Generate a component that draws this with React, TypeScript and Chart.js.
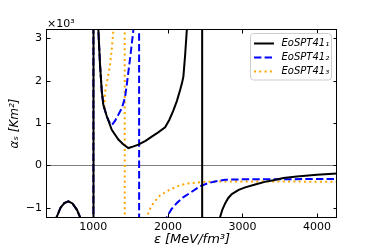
import React, { useEffect, useRef } from 'react';
import { Chart, registerables } from 'chart.js';

Chart.register(...registerables);

// ---- data (x: energy density ε in MeV/fm³, y: α_s in 10³ Km²) ----
const seriesLabels = ['EoSPT41', 'EoSPT41', 'EoSPT41'];
const seriesSubs = ['₁', '₂', '₃'];

const eps1 = [440, 508, 560, 610, 664, 720, 780, 821, 880, 950, 990, 998, 1002, 1030, 1067, 1090, 1113, 1134, 1180, 1247, 1336, 1400, 1470, 1540, 1604, 1700, 1784, 1870, 1963, 2020, 2074, 2120, 2164, 2190, 2208, 2231, 2254, 2300, 2400, 2455, 2465, 2560, 2650, 2701, 2730, 2768, 2810, 2858, 2950, 3037, 3171, 3300, 3417, 3550, 3731, 4000, 4269];
const alpha1 = [-1.6, -1.22, -1.0, -0.89, -0.85, -0.9, -1.05, -1.22, -1.7, -3.5, -12, -60, 60, 5, 3.2, 2.37, 1.75, 1.43, 1.16, 0.84, 0.61, 0.5, 0.41, 0.45, 0.49, 0.58, 0.68, 0.78, 0.9, 1.08, 1.3, 1.52, 1.78, 1.95, 2.1, 2.6, 3.2, 6, 20, 60, -60, -5, -1.7, -1.22, -1.05, -0.9, -0.77, -0.68, -0.58, -0.52, -0.45, -0.39, -0.35, -0.3, -0.26, -0.22, -0.19];

const eps2 = [440, 508, 560, 610, 664, 720, 780, 821, 880, 950, 990, 998, 1002, 1030, 1067, 1090, 1113, 1134, 1180, 1215, 1247, 1290, 1336, 1380, 1403, 1426, 1448, 1493, 1537, 1570, 1600, 1608, 1620, 1800, 1900, 1985, 2050, 2120, 2200, 2298, 2433, 2540, 2634, 2768, 3000, 3500, 4000, 4269];
const alpha2 = [-1.6, -1.22, -1.0, -0.89, -0.85, -0.9, -1.05, -1.22, -1.7, -3.5, -12, -60, 60, 5, 3.2, 2.37, 1.75, 1.43, 1.16, 1.02, 0.95, 1.05, 1.2, 1.35, 1.47, 1.62, 1.9, 2.53, 3.2, 6, 20, 60, -60, -4, -2, -1.22, -1.03, -0.89, -0.76, -0.65, -0.49, -0.42, -0.38, -0.34, -0.33, -0.33, -0.32, -0.32];

const eps3 = [440, 508, 560, 610, 664, 720, 780, 821, 880, 950, 990, 998, 1002, 1030, 1067, 1090, 1113, 1134, 1146, 1157, 1180, 1224, 1250, 1269, 1300, 1380, 1414, 1428, 1500, 1650, 1717, 1760, 1806, 1900, 2030, 2150, 2254, 2477, 2701, 3000, 3500, 4269];
const alpha3 = [-1.6, -1.22, -1.0, -0.89, -0.85, -0.9, -1.05, -1.22, -1.7, -3.5, -12, -60, 60, 5, 3.2, 2.37, 1.75, 1.43, 1.32, 1.72, 1.95, 2.37, 2.8, 3.2, 4.5, 15, 60, -60, -5, -1.6, -1.22, -1.03, -0.89, -0.7, -0.57, -0.48, -0.43, -0.39, -0.38, -0.38, -0.38, -0.39];

const xTicks = [1000, 2000, 3000, 4000];
const yTicks = [-1, 0, 1, 2, 3];
const xRange = [378, 4269];
const yRange = [-1.22, 3.2];

const FONT = "'DejaVu Sans', sans-serif";

const decorPlugin = {
  id: 'decor',
  beforeDatasetsDraw(chart: any) {
    const { ctx, chartArea } = chart;
    const y0 = Math.round(chart.scales.y.getPixelForValue(0)) + 0.5;
    ctx.save();
    ctx.strokeStyle = '#808080';
    ctx.lineWidth = 1;
    ctx.beginPath();
    ctx.moveTo(chartArea.left, y0);
    ctx.lineTo(chartArea.right, y0);
    ctx.stroke();
    ctx.restore();
  },
  afterDatasetsDraw(chart: any) {
    const { ctx, chartArea } = chart;
    const { left, right, top, bottom } = chartArea;
    const xs = chart.scales.x;
    const ys = chart.scales.y;
    ctx.save();
    // frame
    ctx.strokeStyle = '#000';
    ctx.lineWidth = 1;
    ctx.setLineDash([]);
    ctx.strokeRect(left - 0.5, top - 0.5, right - left, bottom - top + 1);
    // inward ticks on all sides
    const tl = 3.5;
    ctx.beginPath();
    xTicks.forEach((v) => {
      const px = Math.round(xs.getPixelForValue(v)) + 0.5;
      ctx.moveTo(px, bottom);
      ctx.lineTo(px, bottom - tl);
      ctx.moveTo(px, top);
      ctx.lineTo(px, top + tl);
    });
    yTicks.forEach((v) => {
      const py = Math.round(ys.getPixelForValue(v)) + 0.5;
      ctx.moveTo(left, py);
      ctx.lineTo(left + tl, py);
      ctx.moveTo(right, py);
      ctx.lineTo(right - tl, py);
    });
    ctx.stroke();
    // offset text
    ctx.fillStyle = '#000';
    ctx.font = `11px ${FONT}`;
    ctx.textBaseline = 'alphabetic';
    ctx.textAlign = 'left';
    ctx.fillText('×10³', left, top - 3);
    // legend
    const bx = 250.5, by = 33.5, bw = 81, bh = 46.5, r = 3;
    ctx.beginPath();
    ctx.moveTo(bx + r, by);
    ctx.arcTo(bx + bw, by, bx + bw, by + bh, r);
    ctx.arcTo(bx + bw, by + bh, bx, by + bh, r);
    ctx.arcTo(bx, by + bh, bx, by, r);
    ctx.arcTo(bx, by, bx + bw, by, r);
    ctx.closePath();
    ctx.fillStyle = 'rgba(255,255,255,0.8)';
    ctx.fill();
    ctx.strokeStyle = '#cccccc';
    ctx.stroke();
    chart.data.datasets.forEach((ds: any, i: number) => {
      const ly = Math.round(42.7 + 14 * i) + 0.5;
      ctx.beginPath();
      ctx.strokeStyle = ds.borderColor;
      ctx.lineWidth = ds.borderWidth;
      ctx.setLineDash(ds.borderDash || []);
      ctx.lineCap = 'butt';
      ctx.moveTo(254, ly);
      ctx.lineTo(274, ly);
      ctx.stroke();
      ctx.setLineDash([]);
      ctx.fillStyle = '#000';
      ctx.font = `italic 10px ${FONT}`;
      ctx.textBaseline = 'middle';
      ctx.fillText(ds.label + seriesSubs[i], 281.5, ly);
    });
    ctx.restore();
  },
};

export default function App() {
  const ref = useRef<HTMLCanvasElement>(null);
  useEffect(() => {
    const canvas = ref.current!;
    const mk = (xs: number[], ys: number[]) => xs.map((x, i) => ({ x, y: ys[i] }));
    const chart = new Chart(canvas, {
      type: 'line',
      data: {
        datasets: [
          { label: seriesLabels[0], data: mk(eps1, alpha1), borderColor: '#000000', borderWidth: 2, pointRadius: 0, tension: 0, clip: 0 } as any,
          { label: seriesLabels[1], data: mk(eps2, alpha2), borderColor: '#0000ff', borderWidth: 2, borderDash: [7.4, 3.2], pointRadius: 0, tension: 0, clip: 0 } as any,
          { label: seriesLabels[2], data: mk(eps3, alpha3), borderColor: '#ffa500', borderWidth: 2, borderDash: [2, 3.3], pointRadius: 0, tension: 0, clip: 0 } as any,
        ],
      },
      options: {
        responsive: false,
        animation: false,
        devicePixelRatio: 1,
        layout: { padding: { top: 30, right: 37, left: 0, bottom: 0 } },
        plugins: { legend: { display: false }, tooltip: { enabled: false } },
        scales: {
          x: {
            type: 'linear',
            min: xRange[0],
            max: xRange[1],
            afterFit: (s: any) => { s.height = 32; },
            afterBuildTicks: (s: any) => { s.ticks = xTicks.map((v) => ({ value: v })); },
            grid: { display: false, drawTicks: false },
            border: { display: false },
            ticks: { padding: 4, color: '#000', font: { family: FONT, size: 11 }, maxRotation: 0, autoSkip: false, callback: (v: any) => String(v) },
            title: { display: true, text: 'ε [MeV/fm³]', color: '#000', font: { family: FONT, size: 13, style: 'italic' }, padding: { top: 0, bottom: 2 } },
          },
          y: {
            type: 'linear',
            min: yRange[0],
            max: yRange[1],
            afterFit: (s: any) => { s.width = 47; },
            afterBuildTicks: (s: any) => { s.ticks = yTicks.map((v) => ({ value: v })); },
            grid: { display: false, drawTicks: false },
            border: { display: false },
            ticks: { padding: 5, color: '#000', font: { family: FONT, size: 11 }, autoSkip: false, callback: (v: any) => (v < 0 ? '−' + Math.abs(v) : String(v)) },
            title: { display: true, text: 'αₛ [Km²]', color: '#000', font: { family: FONT, size: 12, style: 'italic' }, padding: { top: 8, bottom: 0 } },
          },
        },
      } as any,
      plugins: [decorPlugin],
    });
    return () => chart.destroy();
  }, []);
  return (
    <div style={{ position: 'fixed', left: 0, top: 0, width: 374, height: 249, background: '#fff' }}>
      <canvas ref={ref} width={374} height={249} style={{ display: 'block' }} />
    </div>
  );
}
